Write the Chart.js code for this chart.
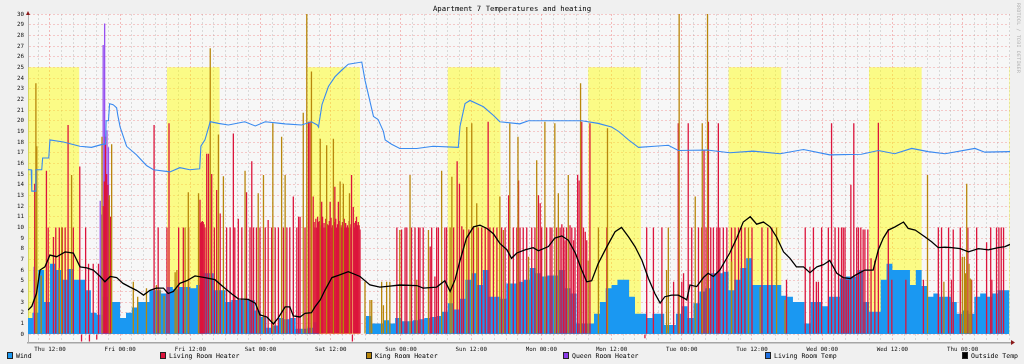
<!DOCTYPE html>
<html>
<head>
<meta charset="utf-8">
<title>Apartment 7 Temperatures and heating</title>
<script src="https://cdn.jsdelivr.net/npm/chart.js@4.4.1/dist/chart.umd.min.js"></script>
<style>
  html, body { margin: 0; padding: 0; background: #f0f0f0; }
  #wrap { position: relative; width: 1024px; height: 364px; overflow: hidden; font-family: "DejaVu Sans Mono", monospace; color: #000; }
  #chart { position: absolute; left: 0; top: 0; }
  #title { position: absolute; top: 4px; left: 0; width: 1024px; text-align: center; font-size: 7.3px; }
  #credit { position: absolute; top: 3px; left: 1016px; writing-mode: vertical-rl; font-size: 4.8px; color: #b0b0b0; letter-spacing: 0.3px; }
  .leg { position: absolute; top: 352px; font-size: 6.5px; line-height: 8px; white-space: nowrap; }
  .leg i { display: inline-block; width: 4px; height: 5px; border: 1px solid #222; margin-right: 3px; vertical-align: -1px; }
</style>
</head>
<body>
<div id="wrap">
  <canvas id="chart" width="1024" height="364"></canvas>
  <div id="title">Apartment 7 Temperatures and heating</div>
  <div id="credit">RRDTOOL / TOBI OETIKER</div>
  <div id="legend"></div>
</div>
<script>
// hours counted from Thu 00:00
const startHour = 8.25;
const endHour = 176.1;

const yTickValues = [0, 1, 2, 3, 4, 5, 6, 7, 8, 9, 10, 11, 12, 13, 14, 15, 16, 17, 18, 19, 20, 21, 22, 23, 24, 25, 26, 27, 28, 29, 30];
const xTickHours = [12, 24, 36, 48, 60, 72, 84, 96, 108, 120, 132, 144, 156, 168];
const xTickLabels = ['Thu 12:00', 'Fri 00:00', 'Fri 12:00', 'Sat 00:00', 'Sat 12:00', 'Sun 00:00', 'Sun 12:00',
  'Mon 00:00', 'Mon 12:00', 'Tue 00:00', 'Tue 12:00', 'Wed 00:00', 'Wed 12:00', 'Thu 00:00'];

// daytime shading 08:00 - 17:00
const dayStart = [8, 32, 56, 80, 104, 128, 152, 176];
const dayEnd = [17, 41, 65, 89, 113, 137, 161, 185];
const dayTop = 25;

// wind, one value per hour starting at Thu 08:00
const windFirstHour = 8;
const wind = [
  1.5, 2.0, 6.0, 3.0, 6.6, 6.0, 5.1, 6.1, 5.1, 5.1, 4.1, 2.0, 1.8, 3.5, 3.0, 3.0,
  1.5, 2.0, 2.5, 3.0, 3.0, 4.1, 4.1, 3.8, 4.4, 4.2, 4.4, 4.4, 4.3, 4.6, 5.7, 5.7,
  4.1, 4.1, 3.0, 3.2, 3.2, 3.2, 3.2, 2.2, 1.6, 0.6, 0.8, 1.5, 1.4, 1.5, 0.5, 0.5,
  0.6, 1.1, 0, 0, 0, 0, 0, 0, 0, 0, 1.7, 1.0, 1.0, 1.3, 1.0, 1.5, 1.2, 1.2,
  1.3, 1.4, 1.5, 1.6, 1.7, 2.1, 2.9, 2.3, 3.3, 5.1, 5.7, 4.6, 6.0, 3.5, 3.5, 3.3,
  4.75, 4.75, 4.9, 5.1, 6.2, 5.7, 5.4, 5.5, 5.5, 6.0, 4.3, 3.8, 1.0, 1.0, 1.0, 1.9,
  3.0, 4.3, 4.6, 5.1, 5.1, 3.5, 1.9, 1.9, 1.5, 1.9, 1.9, 0.85, 0.85, 1.9, 2.6, 1.5,
  2.9, 4.0, 4.3, 5.7, 5.7, 5.85, 4.1, 5.1, 6.2, 7.1, 4.6, 4.6, 4.6, 4.6, 4.6, 3.6,
  3.5, 3.0, 3.0, 1.0, 3.0, 3.0, 2.6, 3.5, 3.5, 5.2, 5.4, 5.4, 6.0, 3.0, 2.1, 2.1,
  5.1, 6.6, 6.0, 6.0, 6.0, 4.6, 6.0, 4.5, 3.5, 3.8, 3.5, 3.5, 3.0, 1.9, 2.2, 1.9,
  3.5, 3.8, 3.5, 3.8, 4.1, 4.1
];

// [hour, value]
const livingTemp = [
  [8.25, 15.4], [8.8, 15.4], [8.9, 13.4], [9.5, 13.4], [9.6, 15.4], [10.6, 15.4], [10.75, 16.5], [11.8, 16.5],
  [12.0, 18.2], [14.3, 18.0], [17.1, 17.6], [19.1, 17.5], [21.1, 17.8], [21.5, 17.8], [21.6, 20.0], [22.0, 20.0],
  [22.2, 21.6], [22.8, 21.5], [23.4, 21.2], [23.6, 20.5], [24.0, 19.4], [25.1, 17.6], [26.8, 16.8], [28.5, 15.8],
  [29.7, 15.4], [32.5, 15.2], [34.2, 15.6], [35.9, 15.4], [37.6, 15.5], [37.8, 17.6], [38.5, 18.2], [39.4, 19.9],
  [40.8, 19.75], [42.5, 19.6], [45.3, 19.9], [47.1, 19.5], [48.8, 19.9], [52.2, 19.7], [55.0, 19.6], [56.7, 19.9],
  [57.7, 19.6], [57.9, 19.4], [58.5, 21.5], [59.6, 23.2], [60.7, 24.1], [61.9, 24.75], [63.0, 25.3], [65.3, 25.5],
  [65.85, 23.8], [67.3, 20.4], [68.1, 20.1], [69.0, 19.0], [69.3, 18.2], [70.4, 17.8], [71.8, 17.4], [74.7, 17.4],
  [77.5, 17.6], [81.8, 17.5], [82.1, 19.5], [82.95, 21.6], [83.8, 21.9], [86.1, 21.3], [87.8, 20.5], [88.9, 19.9],
  [92.3, 19.7], [93.8, 20.0], [102.9, 20.0], [105.7, 19.75], [108.0, 19.4], [109.2, 19.0], [110.9, 18.2], [112.6, 17.5],
  [115.4, 17.6], [117.7, 17.7], [119.4, 17.2], [124.3, 17.25], [128.2, 17.0], [132.2, 17.15], [136.8, 16.9], [140.8, 17.3],
  [145.3, 16.8], [150.7, 16.85], [153.6, 17.2], [156.4, 16.9], [159.3, 17.4], [162.1, 17.1], [165.0, 16.9], [170.1, 17.4],
  [171.8, 17.05], [176.1, 17.1]
];

const outsideTemp = [
  [8.25, 2.25], [8.9, 2.6], [9.7, 3.8], [10.3, 6.0], [11.15, 6.3], [12.0, 7.4], [13.15, 7.25], [14.6, 7.7],
  [16.0, 7.6], [17.15, 6.3], [18.3, 6.2], [19.4, 6.0], [20.6, 5.4], [21.4, 4.9], [22.3, 5.4], [23.4, 5.3],
  [24.5, 4.75], [25.7, 4.4], [26.8, 4.1], [28.0, 3.65], [29.1, 4.1], [30.2, 4.3], [31.4, 4.3], [32.2, 3.8],
  [33.1, 4.0], [34.2, 4.75], [35.4, 5.0], [36.8, 5.45], [38.5, 5.3], [40.2, 5.1], [41.9, 4.3], [43.1, 3.75],
  [44.2, 3.3], [45.9, 3.25], [47.1, 2.9], [47.9, 1.8], [49.1, 1.6], [50.2, 0.95], [51.0, 1.5], [52.2, 2.55],
  [53.0, 2.55], [53.6, 1.7], [54.75, 1.6], [55.6, 1.95], [56.7, 2.0], [57.3, 2.55], [58.2, 3.2], [59.0, 4.1],
  [60.2, 5.3], [61.3, 5.5], [63.0, 5.85], [65.0, 5.4], [66.7, 4.6], [68.4, 4.4], [70.1, 4.5], [71.8, 4.6],
  [74.7, 4.55], [75.8, 4.3], [78.1, 4.4], [79.5, 5.0], [80.4, 4.0], [81.25, 5.1], [82.1, 6.9], [83.2, 9.0],
  [84.4, 10.05], [85.5, 10.2], [86.7, 9.9], [87.8, 9.4], [88.9, 8.5], [90.1, 7.9], [90.9, 7.1], [91.8, 7.6],
  [93.2, 7.9], [94.6, 8.1], [95.5, 7.8], [97.2, 8.2], [98.3, 9.0], [99.5, 9.2], [100.6, 8.8], [101.8, 7.6],
  [102.9, 6.0], [103.75, 4.9], [104.6, 5.0], [105.7, 6.6], [107.2, 8.2], [108.6, 9.6], [109.7, 10.0], [110.9, 9.1],
  [112.0, 8.2], [113.2, 6.9], [114.3, 5.2], [115.4, 3.8], [116.3, 2.9], [117.1, 3.5], [118.3, 3.65], [119.4, 3.65],
  [120.6, 3.3], [120.85, 3.2], [121.4, 4.6], [122.55, 4.45], [123.7, 5.3], [124.5, 5.7], [125.4, 5.4], [126.5, 6.0],
  [128.2, 7.6], [129.4, 9.0], [130.5, 10.5], [131.7, 11.0], [132.8, 10.3], [133.95, 10.5], [135.1, 10.05], [136.2, 9.1],
  [137.4, 7.7], [138.5, 7.1], [139.6, 6.3], [140.8, 6.3], [141.9, 5.75], [143.1, 6.3], [144.2, 6.5], [145.3, 6.9],
  [146.5, 5.7], [147.6, 5.3], [148.8, 5.2], [149.6, 5.5], [151.3, 6.0], [152.7, 6.0], [153.6, 7.9], [154.45, 9.0],
  [155.3, 9.75], [156.45, 10.05], [157.9, 10.5], [158.7, 9.9], [159.9, 9.75], [161.6, 9.1], [162.7, 8.65], [163.85, 8.1],
  [165.0, 8.15], [166.1, 8.1], [167.6, 8.0], [169.0, 7.7], [170.7, 8.0], [172.4, 7.9], [174.1, 8.1], [175.25, 8.2],
  [176.1, 8.4]
];

const livingHeater = [
  [9.4, 14.1], [11.4, 15.3], [11.7, 10], [12.6, 9.1], [13.0, 10], [13.6, 10], [14.1, 10], [14.6, 10],
  [15.1, 19.6], [16.0, 10], [17.1, 15.7], [17.4, -0.7], [18.1, 10], [18.6, 6.6], [18.75, -0.7], [19.4, 6.6],
  [20.0, -0.5], [20.3, 6.6], [21.1, 12], [21.3, 14.3], [21.5, 18.5], [21.7, 15], [21.9, 14], [22.1, 12.6],
  [22.35, 11], [29.8, 19.6], [30.5, 10], [32.0, 10], [32.35, 19.75], [34.0, 10], [34.8, 10], [35.7, 10],
  [37.65, 12.6], [37.75, 10.4], [37.9, 10.5], [38.05, 10.6], [38.2, 10.5], [38.35, 10.3], [38.5, 10], [38.8, 16.9],
  [39.1, 16.9], [39.65, 15], [40.1, 10],
  [40.5, 13.5], [41.1, 11.3], [42.2, 10], [42.8, 10], [43.35, 18.8], [43.6, 10], [44.2, 10.8], [44.8, 10],
  [45.6, 13.3], [46.2, 10], [46.5, 16.2], [46.8, 10], [47.3, 10], [47.9, 10], [48.8, 10], [49.3, 10.7],
  [49.9, 10], [50.5, 10], [51.05, 10], [51.9, 10], [52.5, 10], [53.0, 10], [53.6, 12.9], [54.2, 10],
  [54.5, 11.0], [54.75, 11.0], [55.6, 10], [56.2, 19.9], [56.45, 19.9], [57.0, 12.9], [57.15, 10.5], [57.3, 10],
  [57.45, 10.8], [57.6, 10], [57.75, 11], [57.9, 10.5], [58.05, 10.6], [58.2, 10], [58.35, 10.2], [58.45, 12.4],
  [58.6, 11], [58.7, 10], [58.85, 10.4], [59.0, 10], [59.15, 10.8], [59.3, 10], [59.45, 10.3], [59.6, 10.2],
  [59.75, 10.6], [59.9, 12.4], [60.05, 10.9], [60.2, 10], [60.3, 10.2], [60.45, 10], [60.6, 10.5], [60.7, 13.8],
  [60.85, 10.8], [61.0, 10], [61.15, 10.3], [61.3, 12.4], [61.45, 10.6], [61.6, 10], [61.75, 10.2], [61.9, 10],
  [62.0, 10.5], [62.15, 10], [62.3, 10.8], [62.4, 10], [62.55, 10.4], [62.7, 10], [62.85, 10.2], [63.0, 10],
  [63.15, 10.6], [63.3, 10], [63.45, 10.3], [63.55, 14.9], [63.7, -0.7], [63.85, 11.9], [64.0, 10.4], [64.1, 10],
  [64.25, 10.6], [64.4, 11.0], [64.55, 10.2], [64.7, 10.5], [64.85, 10.2], [65.0, 9.8],
  [71.3, 10], [72.1, 9.8], [72.7, 10], [73.0, 10], [73.8, 10],
  [74.4, 10], [75.0, 10], [75.25, 10], [75.8, 10], [77.0, 8.2], [77.25, 10], [77.8, 5.4], [78.1, 10],
  [78.4, 10], [79.5, 10], [79.8, 10], [81.0, 10], [81.6, 16.2], [82.0, 14.1], [82.4, 10.1], [82.7, 9.8],
  [83.6, 9.8], [84.4, 10], [85.2, 10], [85.8, 10], [86.4, 10], [86.9, 19.9], [87.2, 10], [87.8, 10],
  [88.4, 10], [89.2, 10], [89.8, 10], [90.4, 13.0], [91.2, 10], [91.8, 10], [92.1, 14.4], [92.35, 10],
  [92.9, 10], [93.5, 10], [94.35, 10], [94.9, 10], [95.5, 13.0], [95.8, 12.25], [96.05, 10], [96.9, 10],
  [97.5, 10], [97.8, 10], [98.6, 10], [99.2, 10], [99.5, 10.3], [99.8, 10], [100.05, 8.8], [100.3, 10],
  [100.9, 10.2], [101.2, 10], [101.5, 8.8], [101.75, 10], [102.2, 14.9], [102.45, 14.4], [102.9, 19.9], [103.2, 10],
  [103.5, 9.6], [103.75, 8.8], [104.3, 19.75], [107.2, 10], [113.7, -0.4], [114.0, 10], [115.15, 10], [116.6, 10],
  [118.6, 4.9], [119.4, 19.75], [120.0, 4.9], [120.3, 5.7], [121.1, 19.75], [121.7, 10], [122.85, 10], [123.4, 10],
  [123.8, 17.25], [124.15, 10], [124.55, 19.9], [124.95, 10], [125.4, 10], [126.0, 10], [126.25, 19.75], [126.5, 10],
  [127.1, 10], [127.7, 10], [128.5, 10], [129.1, 10], [129.7, 10], [130.2, 10], [130.8, 10], [132.0, 10],
  [133.7, 10], [134.7, 10], [135.4, 10], [137.9, 5.1], [141.1, 10], [141.9, 6.3], [142.5, 10], [143.0, 4.9],
  [143.35, 4.9], [143.9, 10], [145.05, 10], [145.6, 19.75], [146.2, 10], [146.8, 10], [147.3, 10], [147.6, 10],
  [147.9, 10], [148.2, 5.1], [148.5, 5.1], [148.9, 14.0], [149.4, 19.75], [149.9, 10], [150.2, 10], [150.6, 10],
  [151.0, 9.8], [151.3, 9.8], [151.8, 9.8], [152.35, 7.1], [153.0, 6.9], [153.6, 19.8], [155.3, 9.8], [155.9, 5.1],
  [158.3, 5.1], [161.3, 5.1], [163.85, 10], [164.4, 10], [165.6, 10], [166.1, 5.1], [166.4, 9.8], [167.6, 10],
  [168.9, 10], [169.55, 5.1], [170.4, 10], [172.1, 8.6], [172.8, 10], [173.0, 5.1], [173.8, 10], [174.2, 10],
  [174.6, 10], [175.0, 10]
];

const kingHeater = [
  [9.6, 23.5], [9.75, 17.6], [10.5, 5.5], [13.6, 6.2], [14.0, 10], [15.7, 14.9], [20.9, 18.5], [22.15, 13],
  [22.55, 17.8], [26.25, 4.9], [27.0, 3.5], [28.5, 4.3], [30.2, 4.6], [30.8, 4.2], [31.5, 3.6], [33.4, 5.8],
  [33.7, 6.0], [35.1, 10], [35.65, 13.3], [37.4, 13.2], [39.4, 26.8], [40.8, 18.7], [41.65, 14.8], [45.35, 15.3],
  [47.6, 13.2], [48.5, 14.9], [50.1, 19.75], [51.6, 18.5], [52.2, 14.9], [55.3, 20.75], [55.9, 30], [56.7, 24.6],
  [58.2, 18.3], [59.3, 17.7], [60.45, 18.3], [61.6, 14.3], [62.15, 14.1], [63.2, 13.2], [65.85, 4.9], [66.7, 3.2],
  [67.0, 3.2], [68.7, 4.9], [69.0, 2.7], [69.55, 4.9], [70.1, 4.9], [71.8, 9.75], [73.55, 14.9], [74.7, 5.1],
  [76.7, 9.75], [78.95, 15.3], [80.4, 10], [80.7, 14.75], [83.25, 19.4], [84.1, 19.75], [84.95, 12.25], [88.9, 12.9],
  [89.5, 9.75], [90.6, 19.75], [92.0, 18.5], [93.8, 7.25], [95.2, 16.3], [96.6, 19.9], [98.3, 19.75], [98.9, 13.2],
  [100.6, 14.9], [102.7, 23.5], [104.0, 6.9], [105.75, 10], [107.3, 19.3], [117.4, 6.0], [117.7, 10], [119.55, 30],
  [122.3, 12.9], [123.5, 19.75], [124.4, 30], [128.5, 6.8], [131.4, 10], [133.4, 4.4], [136.2, 10], [137.65, 3.2],
  [162.0, 14.9], [164.8, 4.9], [167.95, 7.25], [168.3, 7.25], [168.5, 5.7], [168.7, 14.1], [169.1, 6.6], [169.3, 5.2],
  [169.45, 5.1]
];

const queenHeater = [
  [9.3, 6.3], [20.6, 12.5], [20.85, 11.2], [21.1, 27.1], [21.35, 29.1], [21.75, 19.1], [22.0, 17.5]
];

const toXY = arr => arr.map(p => ({ x: p[0], y: p[1] }));

const bandPoints = [];
dayStart.forEach((s, i) => {
  bandPoints.push({ x: s, y: dayTop });
  bandPoints.push({ x: dayEnd[i], y: 0 });
});

const windPoints = wind.map((v, i) => ({ x: windFirstHour + i, y: v }));
windPoints.push({ x: windFirstHour + wind.length, y: wind[wind.length - 1] });

const minorHours = [];
for (let h = 10; h <= 176; h += 2) minorHours.push(h);

const series = [
  { label: 'Wind', color: '#1a98f2', left: 7 },
  { label: 'Living Room Heater', color: '#dc143c', left: 160 },
  { label: 'King Room Heater', color: '#b8860b', left: 366 },
  { label: 'Queen Room Heater', color: '#8a3ce8', left: 563 },
  { label: 'Living Room Temp', color: '#1f6fe0', left: 765 },
  { label: 'Outside Temp', color: '#000000', left: 962 }
];

// legend along the bottom edge
const legendEl = document.getElementById('legend');
series.forEach(s => {
  const d = document.createElement('div');
  d.className = 'leg';
  d.style.left = s.left + 'px';
  d.innerHTML = '<i style="background:' + s.color + '"></i>' + s.label;
  legendEl.appendChild(d);
});

const plotBg = {
  id: 'plotBg',
  beforeDraw(chart) {
    const { ctx, chartArea: a } = chart;
    ctx.save();
    ctx.fillStyle = '#f7f7f7';
    ctx.fillRect(a.left, a.top, a.right - a.left, a.bottom - a.top);
    ctx.restore();
  },
  afterDraw(chart) {
    const { ctx, chartArea: a } = chart;
    ctx.save();
    ctx.fillStyle = '#8b1a1a';
    // axis arrows
    ctx.beginPath();
    ctx.moveTo(a.right + 5, a.bottom);
    ctx.lineTo(a.right + 1, a.bottom - 2.5);
    ctx.lineTo(a.right + 1, a.bottom + 2.5);
    ctx.fill();
    ctx.beginPath();
    ctx.moveTo(a.left, a.top - 3);
    ctx.lineTo(a.left - 2, a.top + 1);
    ctx.lineTo(a.left + 2, a.top + 1);
    ctx.fill();
    ctx.restore();
  }
};

// thin spikes; no auto inflate so they stay one pixel or so wide
const barBase = { type: 'bar', barThickness: 1.3, grouped: false, borderWidth: 0, inflateAmount: 0 };

new Chart(document.getElementById('chart'), {
  type: 'line',
  data: {
    datasets: [
      { label: 'day', data: bandPoints, stepped: true, fill: 'origin', backgroundColor: 'rgba(255,255,0,0.46)',
        borderWidth: 0, pointRadius: 0, order: 10 },
      { label: 'Wind', data: windPoints, stepped: true, fill: 'origin', backgroundColor: series[0].color,
        borderWidth: 0, pointRadius: 0, order: 9 },
      Object.assign({ label: 'Queen Room Heater', data: toXY(queenHeater), backgroundColor: '#9650f0', order: 8 }, barBase),
      Object.assign({ label: 'Living Room Heater', data: toXY(livingHeater), backgroundColor: series[1].color, order: 7 }, barBase),
      Object.assign({ label: 'King Room Heater', data: toXY(kingHeater), backgroundColor: series[2].color, order: 6 }, barBase),
      { label: 'Living Room Temp', data: toXY(livingTemp), borderColor: '#3a8af0', borderWidth: 1.1,
        pointRadius: 0, fill: false, order: 2 },
      { label: 'Outside Temp', data: toXY(outsideTemp), borderColor: '#000', borderWidth: 1.3,
        pointRadius: 0, fill: false, order: 1 }
    ]
  },
  options: {
    responsive: false,
    animation: false,
    devicePixelRatio: 1,
    layout: { padding: { left: 0, right: 14, top: 14, bottom: 0 } },
    plugins: { legend: { display: false }, tooltip: { enabled: false } },
    scales: {
      x: {
        type: 'linear',
        min: startHour,
        max: endHour,
        offset: false,
        afterFit: scale => { scale.height = 21.4; },
        afterBuildTicks: scale => { scale.ticks = minorHours.map(v => ({ value: v })); },
        grid: {
          offset: false,
          drawTicks: false,
          color: c => (c.tick && c.tick.value % 12 === 0) ? 'rgba(235,110,110,0.45)' : 'rgba(160,160,160,0.35)',
          lineWidth: 1
        },
        border: { display: true, color: '#a6a6a6', width: 1.5, dash: [2, 2] },
        ticks: {
          autoSkip: false,
          maxRotation: 0,
          padding: 3,
          color: '#111',
          font: { family: 'DejaVu Sans Mono', size: 5.8 },
          callback: v => { const i = xTickHours.indexOf(v); return i >= 0 ? xTickLabels[i] : ''; }
        }
      },
      y: {
        min: -0.8,
        max: 30,
        afterFit: scale => { scale.width = 28; },
        afterBuildTicks: scale => { scale.ticks = yTickValues.map(v => ({ value: v })); },
        grid: { drawTicks: false, color: 'rgba(240,130,130,0.4)', lineWidth: 1 },
        border: { display: true, color: '#b0b0b0', width: 1, dash: [2, 2] },
        ticks: {
          padding: 4,
          color: '#111',
          font: { family: 'DejaVu Sans Mono', size: 5.8 },
          callback: v => String(v)
        }
      }
    }
  },
  plugins: [plotBg]
});
</script>
</body>
</html>
